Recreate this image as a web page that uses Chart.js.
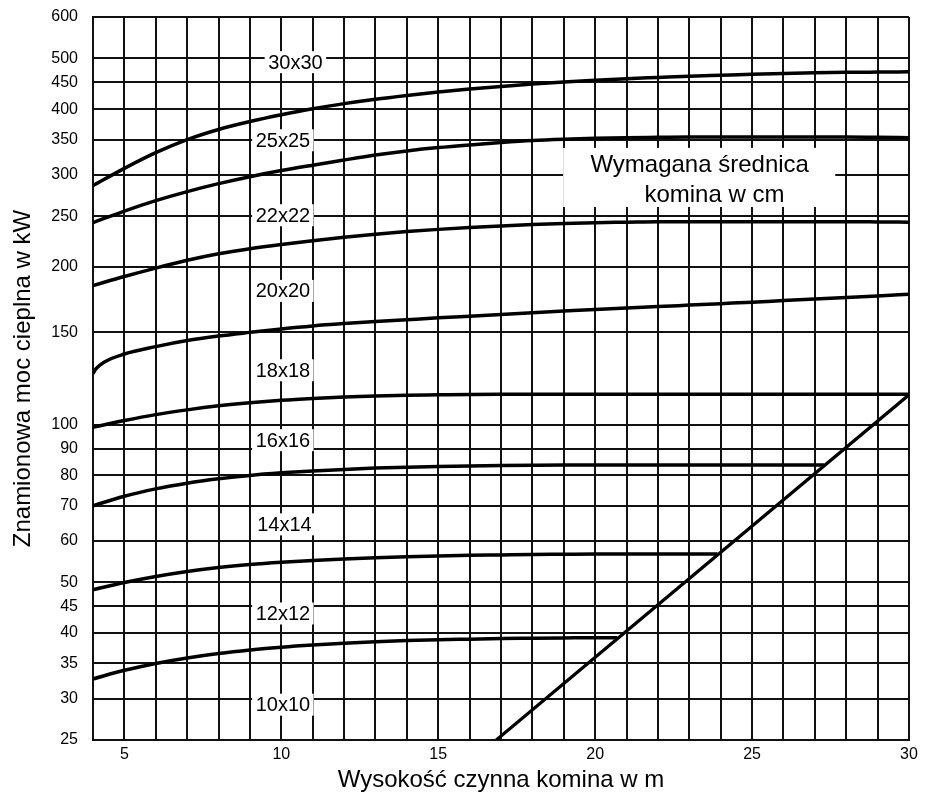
<!DOCTYPE html>
<html lang="pl">
<head>
<meta charset="utf-8">
<title>Moc cieplna a wysokość komina</title>
<script src="https://cdn.jsdelivr.net/npm/chart.js@4.4.1/dist/chart.umd.min.js"></script>
<style>
  html, body { margin: 0; background: #fff; }
  canvas { display: block; }
</style>
</head>
<body>
<canvas id="chimneyChart" width="936" height="796"></canvas>
<script>
// Curves: [height in m, output in kW]
const p30 = [[4,286],[5,308.5],[6,330.5],[7,350],[8,366],[9,379],[10,390.5],[11,401],[12,410],[13,418],[14,425],[15,431.5],[16,437],[17,442],[18,447],[19,451],[20,454.5],[21,457.5],[22,460],[23,462.5],[24,464.5],[25,466.5],[26,468],[27,469.5],[28,470.5],[29,471],[30,471.5]];
const p25 = [[4,243],[5,255.7],[6,267.6],[7,278.5],[8,288.4],[9,297.4],[10,305.5],[11,312.8],[12,320],[13,327],[14,333],[15,338],[16,342],[17,345.5],[18,348.5],[19,350.5],[20,352],[21,353],[22,353.5],[23,354],[26,354],[28,354],[29,353.5],[30,353]];
const p22 = [[4,184.3],[5,191.8],[6,199],[7,205.9],[8,211.9],[9,216.7],[10,220.8],[11,224.5],[12,227.8],[13,230.9],[14,233.6],[15,235.9],[16,237.9],[17,239.5],[18,240.9],[19,242.1],[20,243],[21,243.5],[22,244],[25,244],[28,244],[29,243.8],[30,243.5]];
const p20 = [[4,125.2],[4.1,127.9],[4.35,131.6],[5,136.4],[6,140.9],[7,144.7],[8,147.6],[9,150],[10,152.3],[11,154.3],[12,155.9],[13,157.3],[14,158.6],[15,159.9],[16,161.1],[17,162.3],[18,163.5],[19,164.7],[20,165.9],[21,167],[22,168],[23,169.1],[24,170.2],[25,171.3],[26,172.5],[27,173.7],[28,174.9],[29,176.1],[30,177.3]];
const p18 = [[4,98.8],[5,101.8],[6,104.5],[7,106.7],[8,108.6],[9,110.1],[10,111.3],[11,112.2],[12,112.9],[13,113.4],[14,113.8],[15,114],[16,114.2],[17,114.3],[20,114.3],[25,114.3],[30,114.3]];
const p16 = [[4,70],[5,73],[6,75.4],[7,77.3],[8,78.8],[9,80],[10,80.9],[11,81.6],[12,82.1],[13,82.6],[14,82.95],[15,83.2],[16,83.4],[17,83.55],[18,83.65],[19,83.7],[23,83.7],[27.3,83.7]];
const p14 = [[4,48.4],[5,49.95],[6,51.3],[7,52.45],[8,53.35],[9,54.05],[10,54.6],[11,55.05],[12,55.4],[13,55.7],[14,55.95],[15,56.15],[16,56.3],[17,56.4],[18,56.5],[19,56.55],[20,56.6],[23.9,56.6]];
const p12 = [[4,32.7],[5,33.96],[6,35],[7,35.86],[8,36.57],[9,37.14],[10,37.6],[11,37.96],[12,38.25],[13,38.5],[14,38.7],[15,38.85],[16,38.95],[17,39.05],[18,39.1],[19,39.15],[20,39.2],[20.7,39.2]];
// Limit line cutting off the small flues
const limitLine = [[16.85,25],[30,114]];

const yTicks = [25, 30, 35, 40, 45, 50, 60, 70, 80, 90, 100, 150, 200, 250, 300, 350, 400, 450, 500, 600];
const xLabels = [5, 10, 15, 20, 25, 30];

// Flue size labels and where they sit (height, kW)
const curveNames = ['30x30', '25x25', '22x22', '20x20', '18x18', '16x16', '14x14', '12x12', '10x10'];
const nameHeights = [10.45, 10.05, 10.05, 10.05, 10.05, 10.05, 10.1, 10.05, 10.05];
const namePowers = [492, 349, 251, 180, 127, 93.4, 64.5, 43.6, 29.2];

// Note box text
const noteLines = ['Wymagana średnica', 'komina w cm'];
const noteHeights = [23.33, 23.8];
const notePowers = [314.5, 275.7];
const noteBoxH = [18.98, 27.65];
const noteBoxKW = [337.5, 260.3];

const FONT = '"Liberation Sans", Arial, sans-serif';

// White boxes with labels, drawn over the grid but under the curves
const labelBoxes = {
  id: 'labelBoxes',
  beforeDatasetsDraw(chart) {
    const { ctx, scales: { x, y } } = chart;
    ctx.save();
    ctx.textAlign = 'center';
    ctx.textBaseline = 'middle';

    ctx.font = `20px ${FONT}`;
    curveNames.forEach((name, i) => {
      const px = x.getPixelForValue(nameHeights[i]);
      const py = y.getPixelForValue(namePowers[i]);
      const w = ctx.measureText(name).width + 7;
      ctx.fillStyle = '#fff';
      ctx.fillRect(px - w / 2, py - 11, w, 22);
      ctx.fillStyle = '#000';
      ctx.fillText(name, px, py + 1);
    });

    const bx1 = x.getPixelForValue(noteBoxH[0]);
    const bx2 = x.getPixelForValue(noteBoxH[1]);
    const by1 = y.getPixelForValue(noteBoxKW[0]);
    const by2 = y.getPixelForValue(noteBoxKW[1]);
    ctx.fillStyle = '#fff';
    ctx.fillRect(bx1, by1, bx2 - bx1, by2 - by1);
    ctx.fillStyle = '#000';
    ctx.font = `24px ${FONT}`;
    noteLines.forEach((line, i) => {
      ctx.fillText(line, x.getPixelForValue(noteHeights[i]), y.getPixelForValue(notePowers[i]) + 1);
    });
    ctx.restore();
  }
};

function curve(points) {
  return {
    data: points.map(([h, kw]) => ({ x: h, y: kw })),
    borderColor: '#000',
    borderWidth: 3.5,
    pointRadius: 0,
    fill: false,
    cubicInterpolationMode: 'monotone'
  };
}

const datasets = [p30, p25, p22, p20, p18, p16, p14, p12].map(curve);
const limit = curve(limitLine);
limit.cubicInterpolationMode = 'default';
limit.tension = 0;
limit.borderWidth = 3.2;
datasets.push(limit);

const gridStyle = { color: '#111', lineWidth: 2, drawTicks: false };
const borderStyle = { color: '#111', width: 2 };

new Chart(document.getElementById('chimneyChart'), {
  type: 'line',
  data: { datasets },
  options: {
    responsive: false,
    animation: false,
    layout: { padding: { top: 17, right: 27, bottom: 0, left: 0 } },
    plugins: { legend: { display: false }, tooltip: { enabled: false } },
    scales: {
      x: {
        type: 'linear',
        min: 4,
        max: 30,
        grid: gridStyle,
        border: borderStyle,
        afterFit: (scale) => { scale.height = 56; },
        ticks: {
          stepSize: 1,
          autoSkip: false,
          maxRotation: 0,
          padding: 5,
          color: '#000',
          font: { family: FONT, size: 16 },
          callback: (v) => xLabels.includes(v) ? String(v) : ''
        },
        title: {
          display: true,
          text: 'Wysokość czynna komina w m',
          color: '#000',
          font: { family: FONT, size: 24 },
          padding: { top: 0, bottom: 1 }
        }
      },
      y: {
        type: 'logarithmic',
        min: 25,
        max: 600,
        grid: gridStyle,
        border: borderStyle,
        // fixed axis width; drop the extra top/bottom room the label padding asks for
        afterFit: (scale) => {
          scale.width = 93;
          scale.paddingTop = 0;
          scale.paddingBottom = 0;
        },
        afterBuildTicks: (scale) => { scale.ticks = yTicks.map(v => ({ value: v })); },
        ticks: {
          autoSkip: false,
          padding: 15,
          color: '#000',
          font: { family: FONT, size: 16 },
          callback: (v) => String(v)
        },
        title: {
          display: true,
          text: 'Znamionowa moc cieplna w kW',
          color: '#000',
          font: { family: FONT, size: 24 },
          padding: { top: 9, bottom: 0 }
        }
      }
    }
  },
  plugins: [labelBoxes]
});
</script>
</body>
</html>
